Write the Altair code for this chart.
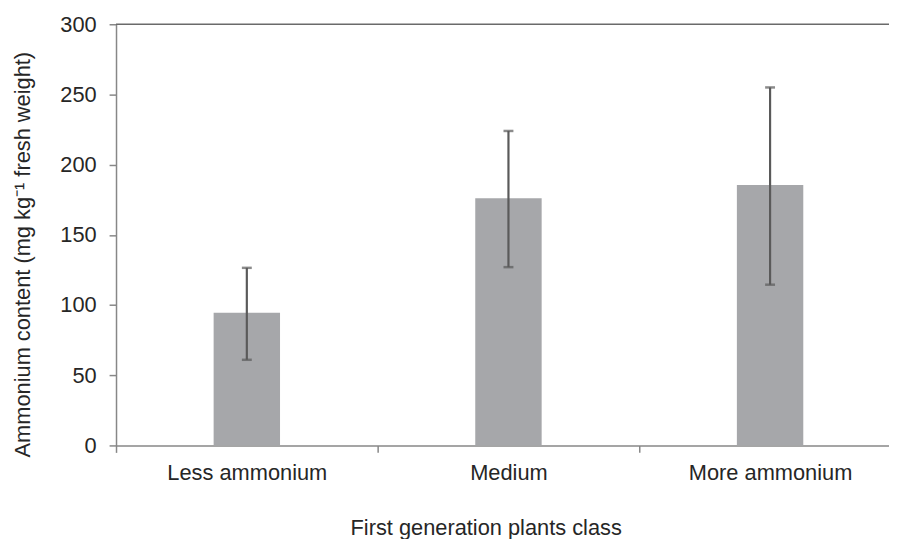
import altair as alt
import pandas as pd

categories = ["Less ammonium", "Medium", "More ammonium"]
means = [94.5, 176, 185.5]
lower = [61, 127, 114.5]
upper = [126.5, 224, 255]

df = pd.DataFrame({"cat": categories, "mean": means, "lo": lower, "hi": upper})

FONT = "Liberation Sans"
TXT = "#262626"
AX = "#878787"

x_scale = alt.Scale(paddingInner=0, paddingOuter=0)

x_axis = alt.Axis(
    title="First generation plants class",
    labelAngle=0,
    labelFontSize=22,
    labelFont=FONT,
    labelColor=TXT,
    labelPadding=10,
    tickSize=7,
    tickColor=AX,
    tickWidth=1.5,
    tickBand="extent",
    domainColor=AX,
    domainWidth=1.5,
    titleFontSize=22,
    titleFont=FONT,
    titleFontWeight="normal",
    titleColor=TXT,
    titleX=373,
    titleY=90,
    titleAlign="center",
    titleBaseline="alphabetic",
)

y_scale = alt.Scale(domain=[0, 300], nice=False)

y_axis = alt.Axis(
    title="Ammonium content (mg kg\u207b\u00b9 fresh weight)",
    values=[0, 50, 100, 150, 200, 250, 300],
    grid=False,
    labelFontSize=22,
    labelFont=FONT,
    labelColor=TXT,
    labelPadding=13,
    tickSize=7,
    tickColor=AX,
    tickWidth=1.5,
    domainColor=AX,
    domainWidth=1.5,
    titleFontSize=22,
    titleFont=FONT,
    titleFontWeight="normal",
    titleColor=TXT,
    titleX=-94,
    titleY=232,
    titleAlign="center",
    titleBaseline="middle",
    titleAngle=270,
)

def xe():
    return alt.X("cat:N", sort=categories, scale=x_scale, axis=x_axis)

base = alt.Chart(df)

bars = base.mark_bar(size=67, color="#a6a7aa").encode(
    x=xe(),
    y=alt.Y("mean:Q", scale=y_scale, axis=y_axis),
)

err = base.mark_rule(color="#5a5a5a", strokeWidth=2.2).encode(
    x=xe(),
    y=alt.Y("lo:Q", scale=y_scale),
    y2="hi:Q",
)

cap_hi = base.mark_tick(color="#5a5a5a", size=10, thickness=2.5).encode(
    x=xe(),
    y=alt.Y("hi:Q", scale=y_scale),
)
cap_lo = base.mark_tick(color="#5a5a5a", size=10, thickness=2.5).encode(
    x=xe(),
    y=alt.Y("lo:Q", scale=y_scale),
)

top_line = alt.Chart(pd.DataFrame({"v": [300]})).mark_rule(
    color="#6a6a6a", strokeWidth=1.6
).encode(
    y=alt.Y("v:Q", scale=y_scale),
)

chart = (
    alt.layer(bars, top_line, err, cap_hi, cap_lo)
    .properties(
        width=792,
        height=425,
        autosize=alt.AutoSizeParams(type="none"),
        padding={"left": 109, "top": 14, "right": -12, "bottom": 92},
        background="white",
    )
    .configure_view(stroke=None)
)

chart.save("out.html", embed_options={"renderer": "svg", "actions": False})
